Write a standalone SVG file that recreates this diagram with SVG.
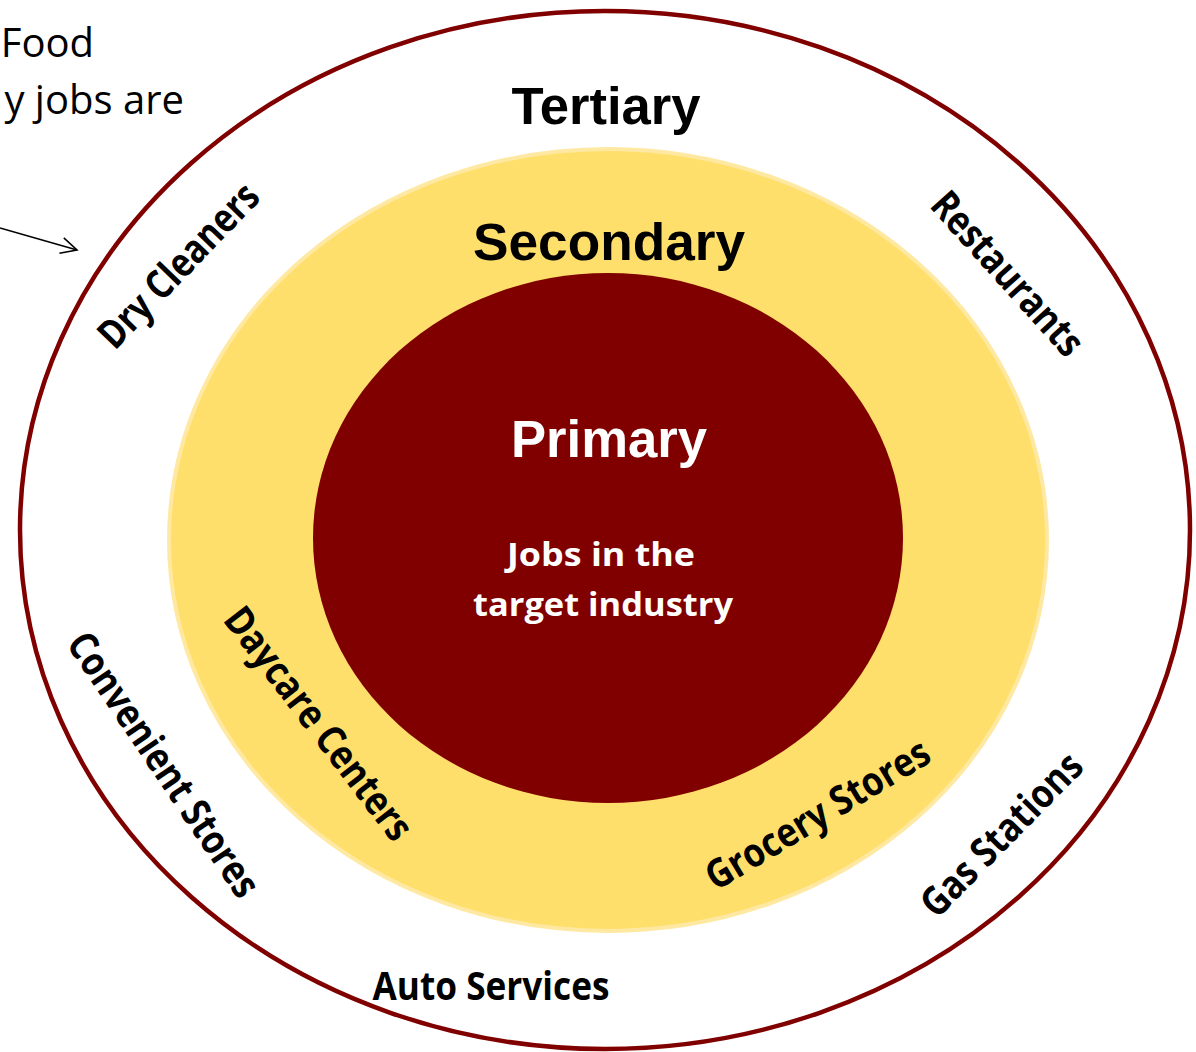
<svg xmlns="http://www.w3.org/2000/svg" width="1196" height="1052" viewBox="0 0 1196 1052">
  <defs>
    <style>
      .title { font-family: "Liberation Sans", Arial, sans-serif; font-weight: bold; font-size: 51px; text-anchor: middle; }
      .lbl { font-family: "Open Sans", "Noto Sans", sans-serif; font-weight: bold; font-size: 40px; text-anchor: middle; fill: #000; }
      .body { font-family: "Open Sans", "Noto Sans", sans-serif; font-weight: bold; font-size: 33px; text-anchor: middle; fill: #fff; }
      .note { font-family: "Open Sans", "Noto Sans", sans-serif; font-size: 40px; text-anchor: end; fill: #000; }
    </style>
    <marker id="openArrow" viewBox="0 0 20 20" refX="18" refY="10" markerWidth="20" markerHeight="20" markerUnits="userSpaceOnUse" orient="auto">
      <path d="M2,2 L18,10 L2,18" fill="none" stroke="#000" stroke-width="1.6"/>
    </marker>
  </defs>

  <rect width="1196" height="1052" fill="#fff"/>

  <g id="note">
    <text class="note" x="94" y="57">Food</text>
    <text class="note" x="184" y="114">y jobs are</text>
  </g>

  <g id="connectors">
    <line x1="0" y1="228" x2="77" y2="250" stroke="#000" stroke-width="1.6" marker-end="url(#openArrow)"/>
  </g>

  <g id="tertiary">
    <ellipse cx="605" cy="530" rx="585" ry="519" fill="#fff" stroke="#800000" stroke-width="4.5"/>
    <text class="title" x="606" y="124" fill="#000" textLength="189" lengthAdjust="spacingAndGlyphs">Tertiary</text>
  </g>

  <g id="secondary">
    <ellipse cx="608" cy="540" rx="439" ry="391" fill="#FFDF6B" stroke="#FFE9A2" stroke-width="4"/>
    <text class="title" x="609" y="260" fill="#000" textLength="272" lengthAdjust="spacingAndGlyphs">Secondary</text>
  </g>

  <g id="primary">
    <ellipse cx="608" cy="538" rx="295" ry="265" fill="#800000"/>
    <text class="title" x="609" y="457" fill="#fff" textLength="196" lengthAdjust="spacingAndGlyphs">Primary</text>
    <text class="body" x="601" y="566" textLength="188" lengthAdjust="spacingAndGlyphs">Jobs in the</text>
    <text class="body" x="603" y="616" textLength="260" lengthAdjust="spacingAndGlyphs">target industry</text>
  </g>

  <g id="dry-cleaners" transform="translate(179,266) rotate(-46)">
    <text class="lbl" x="0" y="13" textLength="212" lengthAdjust="spacingAndGlyphs">Dry Cleaners</text>
  </g>
  <g id="restaurants" transform="translate(1007,274) rotate(48)">
    <text class="lbl" x="0" y="13" textLength="206" lengthAdjust="spacingAndGlyphs">Restaurants</text>
  </g>
  <g id="convenient-stores" transform="translate(163,765) rotate(56)">
    <text class="lbl" x="0" y="13" textLength="310" lengthAdjust="spacingAndGlyphs">Convenient Stores</text>
  </g>
  <g id="daycare-centers" transform="translate(318,724) rotate(52.6)">
    <text class="lbl" x="0" y="13" textLength="282" lengthAdjust="spacingAndGlyphs">Daycare Centers</text>
  </g>
  <g id="grocery-stores" transform="translate(818,815) rotate(-31)">
    <text class="lbl" x="0" y="13" textLength="254" lengthAdjust="spacingAndGlyphs">Grocery Stores</text>
  </g>
  <g id="gas-stations" transform="translate(1002,835) rotate(-45.5)">
    <text class="lbl" x="0" y="13" textLength="212" lengthAdjust="spacingAndGlyphs">Gas Stations</text>
  </g>
  <g id="auto-services">
    <text class="lbl" x="491" y="1000" textLength="237" lengthAdjust="spacingAndGlyphs">Auto Services</text>
  </g>
</svg>
